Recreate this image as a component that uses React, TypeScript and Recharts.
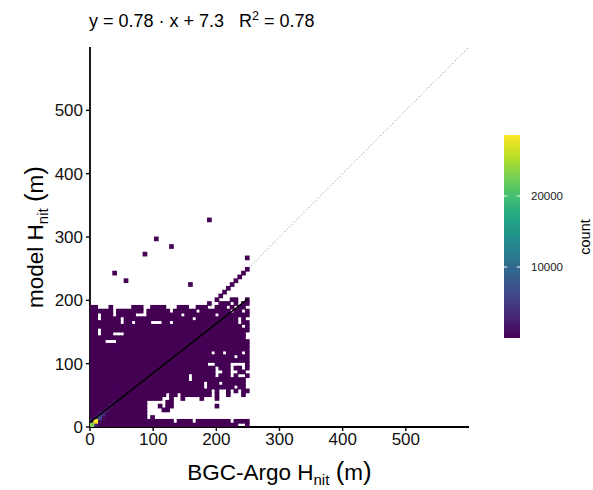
import React from 'react';
import { ScatterChart, Scatter, XAxis, YAxis } from 'recharts';

// ---------- data ----------
const BIN = 6; // bin width (m) of the 2-D histogram
const axisTicks = [0, 100, 200, 300, 400, 500];
const colorbarTicks = [10000, 20000];
const countMin = 1;
const countMax = 28600;
const baseCount = 40;
const fitSlope = 0.78;
const fitIntercept = 7.3;
const fitR2 = 0.78;
const fitRange = [0, 250];
const identityRange = [0, 600];

// occupancy of the bins, top row (index 31) first, column 0 at left
const gridRows: string[] = [
  '##...#.....###..####...###..###..###.#.##.',
  '######.#######.######.######.########.##.#',
  '##.###.#####...#########.########.########',
  '##.#####.##################.###########.#.',
  '########.##.####...##.#################.##',
  '########################################.#',
  '##.#######################################',
  '##.###...################################.',
  '#########################################.',
  '####...###################################',
  '##########################################',
  '##########################################',
  '################################.##.####.#',
  '######################################.###',
  '##########################################',
  '###############################..####....#',
  '#################################.###.##.#',
  '#################################..##..##.',
  '##########################.######.###.#..#',
  '##########################.##############.',
  '##############################.###.######.',
  '##############################.#######.##.',
  '################################.#..#.#.##',
  '####################.##.########.#..#...#.',
  '###################..#..#....#...#........',
  '###############.....##....................',
  '###############...#.##...........#........',
  '###############....##.....................',
  '###############...........................',
  '###############.#.........................',
  '######################.####.#########.####',
  '#######################################..#',
];

// isolated bins outside the dense block: [column, row]
const sparseCells: [number, number][] = [
  [33, 33], [37, 33], [38, 33], [41, 33],
  [31, 32], [34, 32], [35, 32], [36, 32], [38, 32], [40, 32], [41, 32],
  [34, 34], [35, 35], [36, 36], [37, 37], [38, 38], [39, 39], [40, 40], [41, 41],
  [6, 40], [9, 38], [14, 45], [17, 49], [21, 47], [31, 54], [26, 37], [41, 44],
];

// bins with high counts near the origin: [column, row, count]
const hotCells: [number, number, number][] = [
  [0, 0, 23000], [1, 1, 28600], [2, 2, 6500], [3, 3, 3500], [4, 4, 2000],
  [5, 5, 1200], [6, 6, 800], [1, 0, 2500], [0, 1, 2000], [2, 1, 1500],
  [1, 2, 1500], [3, 2, 900], [2, 3, 900],
];

// ---------- build table ----------
const hotMap = new Map<string, number>();
hotCells.forEach(([c, r, n]) => hotMap.set(`${c}-${r}`, n));

const cells: { x: number; y: number; count: number }[] = [];
const nRows = gridRows.length;
gridRows.forEach((row, i) => {
  const r = nRows - 1 - i;
  const s = row.padEnd(42, '.').slice(0, 42);
  for (let c = 0; c < s.length; c++) {
    if (s[c] === '#') {
      cells.push({ x: c * BIN + BIN / 2, y: r * BIN + BIN / 2, count: hotMap.get(`${c}-${r}`) ?? baseCount });
    }
  }
});
sparseCells.forEach(([c, r]) => {
  cells.push({ x: c * BIN + BIN / 2, y: r * BIN + BIN / 2, count: baseCount });
});
// draw hot cells last so they sit on top
cells.sort((a, b) => a.count - b.count);

const fitLine = fitRange.map((x) => ({ x, y: fitSlope * x + fitIntercept }));
const identityLine = identityRange.map((v) => ({ x: v, y: v }));

// ---------- style / layout ----------
const FONT = '"Liberation Sans", Arial, Helvetica, sans-serif';
const W = 593;
const H = 490;
const M_TOP = 47;
const M_RIGHT = 124;
const Y_AXIS_W = 90;
const X_AXIS_H = 63;
const PLOT_W = W - Y_AXIS_W - M_RIGHT;
const PLOT_H = H - M_TOP - X_AXIS_H;
const DOMAIN: [number, number] = [0, 600];
const CELL_W = (PLOT_W / (DOMAIN[1] - DOMAIN[0])) * BIN;
const CELL_H = (PLOT_H / (DOMAIN[1] - DOMAIN[0])) * BIN;
const OVERLAP = 0.45;

const viridisStops = [
  '#440154', '#482475', '#414487', '#355f8d', '#2a788e', '#21918c',
  '#22a884', '#44bf70', '#7ad151', '#bddf26', '#fde725',
];

function hexToRgb(h: string) {
  return [parseInt(h.slice(1, 3), 16), parseInt(h.slice(3, 5), 16), parseInt(h.slice(5, 7), 16)];
}

function viridis(count: number) {
  let t = (count - countMin) / (countMax - countMin);
  t = Math.max(0, Math.min(1, t));
  const p = t * (viridisStops.length - 1);
  const i = Math.min(Math.floor(p), viridisStops.length - 2);
  const f = p - i;
  const a = hexToRgb(viridisStops[i]);
  const b = hexToRgb(viridisStops[i + 1]);
  const m = a.map((v, k) => Math.round(v + (b[k] - v) * f));
  return `rgb(${m[0]},${m[1]},${m[2]})`;
}

const CellShape = (props: any) => {
  const { cx, cy, payload } = props;
  if (cx == null || cy == null) return <g />;
  const fill = viridis(payload?.count ?? baseCount);
  return (
    <rect
      x={cx - CELL_W / 2 - OVERLAP}
      y={cy - CELL_H / 2 - OVERLAP}
      width={CELL_W + 2 * OVERLAP}
      height={CELL_H + 2 * OVERLAP}
      fill={fill}
    />
  );
};

const NoShape = () => <g />;

const CB_X = 504;
const CB_W = 16;
const CB_TOP = 135;
const CB_BOTTOM = 338;
const cbY = (v: number) => CB_BOTTOM - ((v - countMin) / (countMax - countMin)) * (CB_BOTTOM - CB_TOP);

export default function App() {
  return (
    <div style={{ position: 'absolute', left: 0, top: 0, width: W, height: H, background: '#fff' }}>
      <ScatterChart width={W} height={H} margin={{ top: M_TOP, right: M_RIGHT, bottom: 0, left: 0 }}>
        <XAxis
          type="number"
          dataKey="x"
          domain={DOMAIN}
          ticks={axisTicks}
          height={X_AXIS_H}
          tickSize={4}
          tickMargin={2}
          axisLine={{ stroke: '#000', strokeWidth: 1.8 }}
          tickLine={{ stroke: '#000', strokeWidth: 1.4 }}
          tick={{ fontSize: 17, fill: '#111', fontFamily: FONT }}
          allowDataOverflow
        />
        <YAxis
          type="number"
          dataKey="y"
          domain={DOMAIN}
          ticks={axisTicks}
          width={Y_AXIS_W}
          tickSize={4}
          tickMargin={3}
          axisLine={{ stroke: '#000', strokeWidth: 1.8 }}
          tickLine={{ stroke: '#000', strokeWidth: 1.4 }}
          tick={{ fontSize: 17, fill: '#111', fontFamily: FONT }}
          allowDataOverflow
        />
        <Scatter
          data={identityLine}
          line={{ stroke: '#707070', strokeWidth: 0.9, strokeDasharray: '1 2.4' }}
          lineType="joint"
          shape={NoShape}
          isAnimationActive={false}
          legendType="none"
        />
        <Scatter data={cells} shape={CellShape} isAnimationActive={false} legendType="none" />
        <Scatter
          data={fitLine}
          line={{ stroke: '#000', strokeWidth: 1.4 }}
          lineType="joint"
          shape={NoShape}
          isAnimationActive={false}
          legendType="none"
        />
      </ScatterChart>
      <svg
        width={W}
        height={H}
        style={{ position: 'absolute', left: 0, top: 0, pointerEvents: 'none' }}
        fontFamily={FONT}
      >
        {/* equation */}
        <text x={89} y={27} fontSize={18} fill="#000">
          <tspan>{`y = ${fitSlope} · x + ${fitIntercept}`}</tspan>
          <tspan x={239}>R</tspan>
          <tspan fontSize={12.5} dy={-7}>2</tspan>
          <tspan dy={7}>{` = ${fitR2}`}</tspan>
        </text>
        {/* x title */}
        <text x={Y_AXIS_W + PLOT_W / 2} y={480} fontSize={22.5} textAnchor="middle" fill="#000">
          <tspan>BGC-Argo H</tspan>
          <tspan fontSize={15} dy={5}>nit</tspan>
          <tspan dy={-5}> </tspan>
          <tspan fontSize={26}>(</tspan>
          <tspan>m</tspan>
          <tspan fontSize={26}>)</tspan>
        </text>
        {/* y title */}
        <text
          x={43}
          y={M_TOP + PLOT_H / 2}
          fontSize={22.5}
          textAnchor="middle"
          fill="#000"
          transform={`rotate(-90, 43, ${M_TOP + PLOT_H / 2})`}
        >
          <tspan>model H</tspan>
          <tspan fontSize={15} dy={5}>nit</tspan>
          <tspan dy={-5}> </tspan>
          <tspan fontSize={26}>(</tspan>
          <tspan>m</tspan>
          <tspan fontSize={26}>)</tspan>
        </text>
        {/* colour bar */}
        <defs>
          <linearGradient id="viridisBar" x1="0" y1="1" x2="0" y2="0">
            {viridisStops.map((c, i) => (
              <stop key={c} offset={i / (viridisStops.length - 1)} stopColor={c} />
            ))}
          </linearGradient>
        </defs>
        <rect x={CB_X} y={CB_TOP} width={CB_W} height={CB_BOTTOM - CB_TOP} fill="url(#viridisBar)" />
        {colorbarTicks.map((v) => (
          <g key={v}>
            <line x1={CB_X} x2={CB_X + 3.2} y1={cbY(v)} y2={cbY(v)} stroke="#fff" strokeWidth={1} />
            <line x1={CB_X + CB_W - 3.2} x2={CB_X + CB_W} y1={cbY(v)} y2={cbY(v)} stroke="#fff" strokeWidth={1} />
            <text x={CB_X + CB_W + 11} y={cbY(v)} dy="0.35em" fontSize={11.5} fill="#1a1a1a">
              {v}
            </text>
          </g>
        ))}
        <text
          x={585}
          y={237}
          fontSize={14.5}
          textAnchor="middle"
          fill="#000"
          transform="rotate(-90, 585, 237)"
          dy="0.35em"
        >
          count
        </text>
      </svg>
    </div>
  );
}
